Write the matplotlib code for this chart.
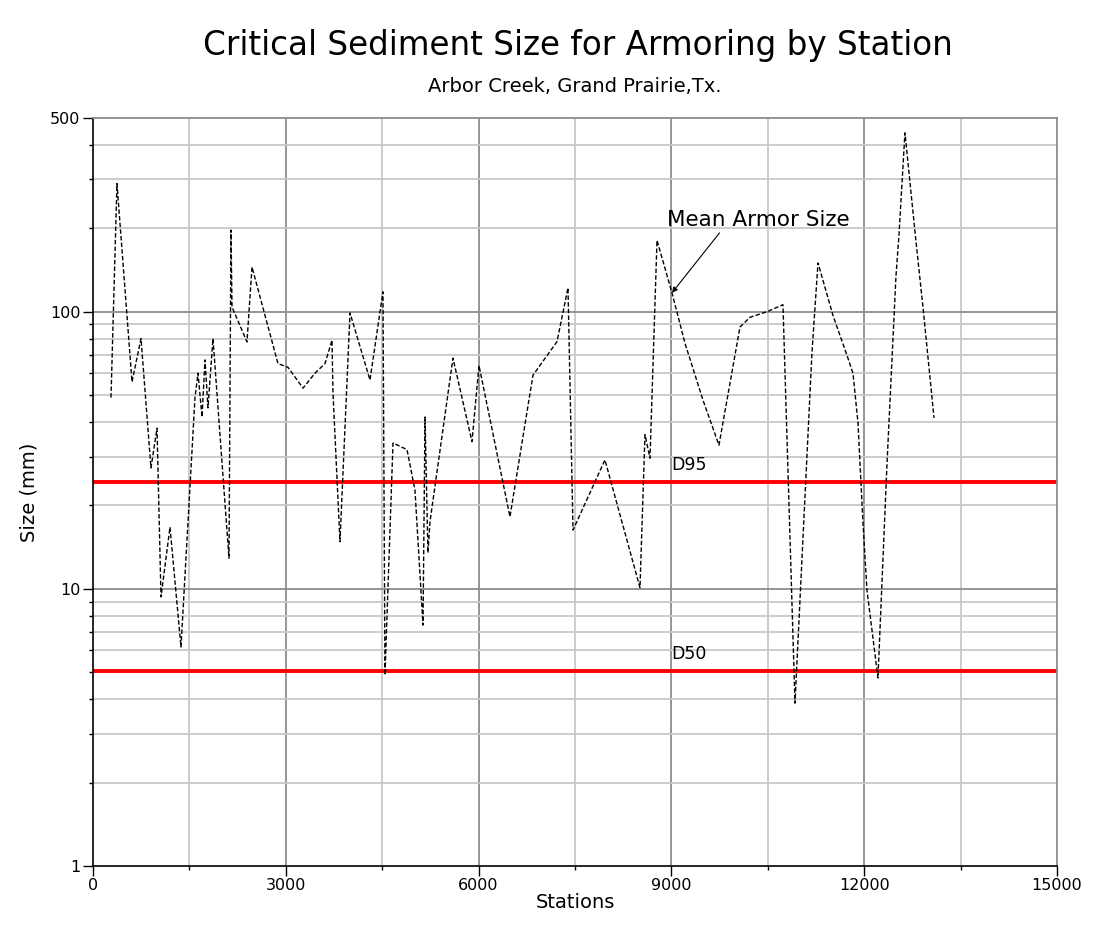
import matplotlib
matplotlib.use("Agg")
import matplotlib.pyplot as plt
from matplotlib.ticker import FixedLocator, NullFormatter, FixedFormatter

plt.rcParams['font.family'] = ['DejaVu Sans']

# Data
stations = [280, 373, 607, 747, 902, 996, 1058, 1198, 1369,
            1587, 1634, 1696, 1743, 1789, 1867, 2116, 2147, 2163, 2396, 2474,
            2878, 3034, 3268, 3454, 3610, 3719, 3734, 3843, 3999, 4310, 4512,
            4543, 4668, 4886, 5010, 5135, 5166, 5212, 5244, 5601, 5897, 6006,
            6488, 6846, 7220, 7391, 7469, 7966, 8511, 8589, 8667, 8776, 9009,
            9211, 9491, 9740, 10067, 10223, 10487, 10736, 10923, 11187, 11281,
            11514, 11747, 11825, 11903, 11981, 12043,
            12214, 12354, 12494, 12541, 12634, 12806, 12922, 13086]
armor_size = [49, 290, 55.8, 80, 27.3, 38, 9.35, 16.7, 6.17,
              49, 60, 41.7, 67, 45, 80, 12.9, 197, 104, 77.8, 145,
              65, 63, 53, 60, 65, 79, 51, 14.8, 99, 56.7, 118,
              4.89, 33.6, 31.8, 22.7, 7.4, 41.7, 13.5, 17.5, 68, 34, 64,
              18.2, 59, 78, 122, 16.3, 29.2, 10.1, 36, 29.6, 181, 117,
              77, 48, 33, 88, 95.5, 100, 106, 3.87, 71, 150,
              97, 68, 60, 39.8, 17.3, 9.9,
              4.77, 28, 134, 189, 442, 179, 100, 41.4]

d95 = 24.3
d50 = 5.05

title = "Critical Sediment Size for Armoring by Station"
subtitle = "Arbor Creek, Grand Prairie,Tx."
x_ticks = [0, 3000, 6000, 9000, 12000, 15000]
x_tick_labels = ["0", "3000", "6000", "9000", "12000", "15000"]
y_ticks = [1, 10, 100, 500]
y_tick_labels = ["1", "10", "100", "500"]

fig = plt.figure(figsize=(10.93, 9.32), dpi=100)
ax = fig.add_axes([93/1093, 1-866/932, (1057-93)/1093, (866-118)/932])

ax.set_yscale('log')
ax.set_xlim(0, 15000)
ax.set_ylim(1, 500)

# ticks
x_minor = [1500, 4500, 7500, 10500, 13500]
ax.xaxis.set_major_locator(FixedLocator(x_ticks))
ax.xaxis.set_major_formatter(FixedFormatter(x_tick_labels))
ax.xaxis.set_minor_locator(FixedLocator(x_minor))
ax.xaxis.set_minor_formatter(NullFormatter())
ax.yaxis.set_major_locator(FixedLocator(y_ticks))
ax.yaxis.set_major_formatter(FixedFormatter(y_tick_labels))
minor_y = [m * d for d in (1, 10, 100) for m in range(2, 10) if m * d < 500]
ax.yaxis.set_minor_locator(FixedLocator(minor_y))
ax.yaxis.set_minor_formatter(NullFormatter())

ax.tick_params(axis='both', which='major', direction='out', length=7, width=1,
               labelsize=11.5, colors='black', pad=2)
ax.tick_params(axis='both', which='minor', direction='out', length=3, width=1)

# grid
for xv in x_ticks[1:-1]:
    ax.axvline(xv, color='#8c8c8c', lw=1.3, zorder=0)
for xv in x_minor:
    ax.axvline(xv, color='#c8c8c8', lw=1.3, zorder=0)
for yv in [10, 100]:
    ax.axhline(yv, color='#8c8c8c', lw=1.3, zorder=0)
for yv in minor_y:
    ax.axhline(yv, color='#c8c8c8', lw=1.3, zorder=0)

for s in ['top', 'right']:
    ax.spines[s].set_color('#8c8c8c')
    ax.spines[s].set_linewidth(1.3)
for s in ['left', 'bottom']:
    ax.spines[s].set_color('black')
    ax.spines[s].set_linewidth(1.2)

# reference lines
ax.axhline(d95, color='#ff0000', lw=2.8, zorder=2)
ax.axhline(d50, color='#ff0000', lw=2.8, zorder=2)
ax.text(8990, d95 * 1.07, "D95", fontsize=12.5, va='bottom', ha='left')
ax.text(8990, d50 * 1.07, "D50", fontsize=12.5, va='bottom', ha='left')

# data line
ax.plot(stations, armor_size, color='black', lw=1.0, linestyle=(0, (3.2, 1.6)), zorder=3)

# annotation
ax.annotate("Mean Armor Size", xy=(9009, 117), xytext=(8930, 214),
            fontsize=15.5, ha='left', va='center',
            arrowprops=dict(arrowstyle='-|>', color='black', lw=0.8,
                            mutation_scale=8, shrinkA=0, shrinkB=0,
                            relpos=(0.3, 0.0)))

ax.set_xlabel("Stations", fontsize=14, labelpad=0)
ax.set_ylabel("Size (mm)", fontsize=14, labelpad=8)

fig.text(578/1093, 1-45/932, title, fontsize=23.5, ha='center', va='center')
fig.text(575/1093, 1-86/932, subtitle, fontsize=14, ha='center', va='center')

fig.savefig("out.png", dpi=100)
